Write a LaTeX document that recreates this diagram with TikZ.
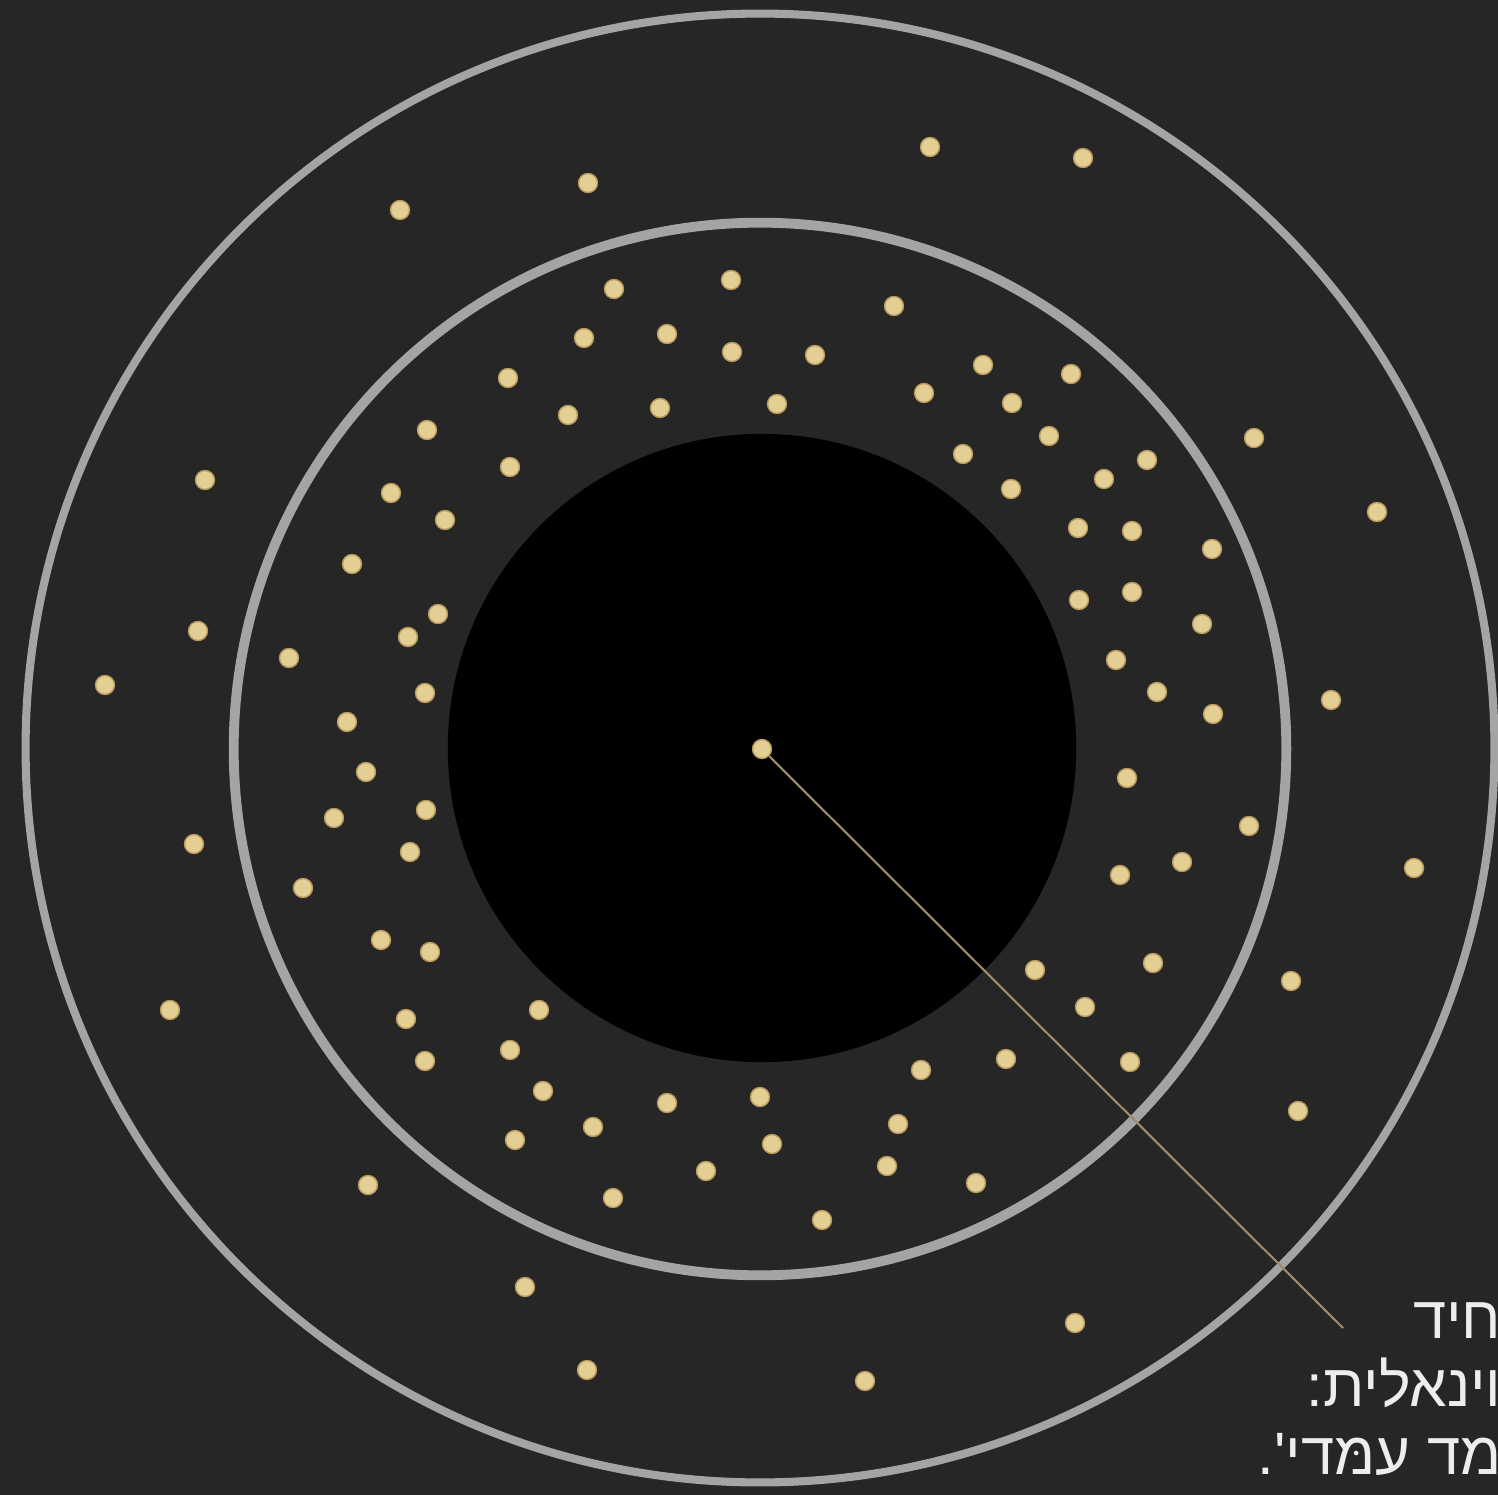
\documentclass[tikz,border=0pt]{standalone}
\usepackage{fontspec}
\newfontfamily\hebfont[Script=Hebrew]{Liberation Sans}
\TeXXeTstate=1
\definecolor{bgdark}{HTML}{262626}
\definecolor{ringgray}{HTML}{A4A4A4}
\definecolor{gold}{HTML}{E3CE93}
\definecolor{goldedge}{HTML}{B89A5E}
\definecolor{leadtan}{HTML}{9E8C66}
\definecolor{notetext}{HTML}{EDEDED}
\tikzset{
  ring/.style={draw=ringgray,line width=2.3pt},
  core/.style={fill=black},
  dot/.style={circle,fill=gold,draw=goldedge,line width=0.4pt,minimum size=0.19cm,inner sep=0pt},
  leader/.style={draw=leadtan,line width=0.6pt},
  note/.style={font=\hebfont\fontsize{17}{19.3}\selectfont,text=notetext,align=right,inner sep=0pt}
}
\begin{document}
\begin{tikzpicture}[x=0.01cm,y=-0.01cm]
\fill[bgdark] (0,0) rectangle (1498,1495);
\useasboundingbox (0,0) rectangle (1498,1495);

% rings and dark core
\draw[ring] (760,748) circle[radius=7.34cm];
\draw[ring,line width=2.8pt] (760,749) circle[radius=5.26cm];
\fill[core] (762,748) circle[radius=3.14cm];

% scattered dots
\foreach \px/\py in {930/147,1083/158,588/183,400/210,614/289,731/280,894/306,584/338,667/334,732/352,
  815/355,508/378,983/365,1071/374,568/415,660/408,777/404,924/393,1012/403,427/430,
  1049/436,1254/438,510/467,963/454,1147/460,1104/479,205/480,391/493,1011/489,445/520,
  1078/528,1132/531,1377/512,1212/549,352/564,438/614,408/637,1079/600,1132/592,1202/624,
  198/631,289/658,1116/660,105/685,425/693,1157/692,1213/714,1331/700,347/722,366/772,
  1127/778,426/810,334/818,1249/826,194/844,410/852,1182/862,1120/875,1414/868,303/888,
  381/940,430/952,1035/970,1153/963,1291/981,170/1010,539/1010,1085/1007,406/1019,510/1050,
  425/1061,1006/1059,1130/1062,921/1070,543/1091,667/1103,760/1097,593/1127,1298/1111,515/1140,
  898/1124,772/1144,706/1171,887/1166,976/1183,368/1185,613/1198,822/1220,525/1287,1075/1323,
  587/1370,865/1381}
  \node[dot] at (\px,\py) {};

% centre dot and its leader line
\node[dot] (centre) at (762,749) {};
\coordinate (tip) at (1343,1328);
\draw[leader] (centre) -- (tip);

\node[note,anchor=north east] (label) at (1502,1302) {\beginR חיד\endR\\\beginR וינאלית:\endR\\\beginR מד עמּדי'.\endR};
\end{tikzpicture}
\end{document}
